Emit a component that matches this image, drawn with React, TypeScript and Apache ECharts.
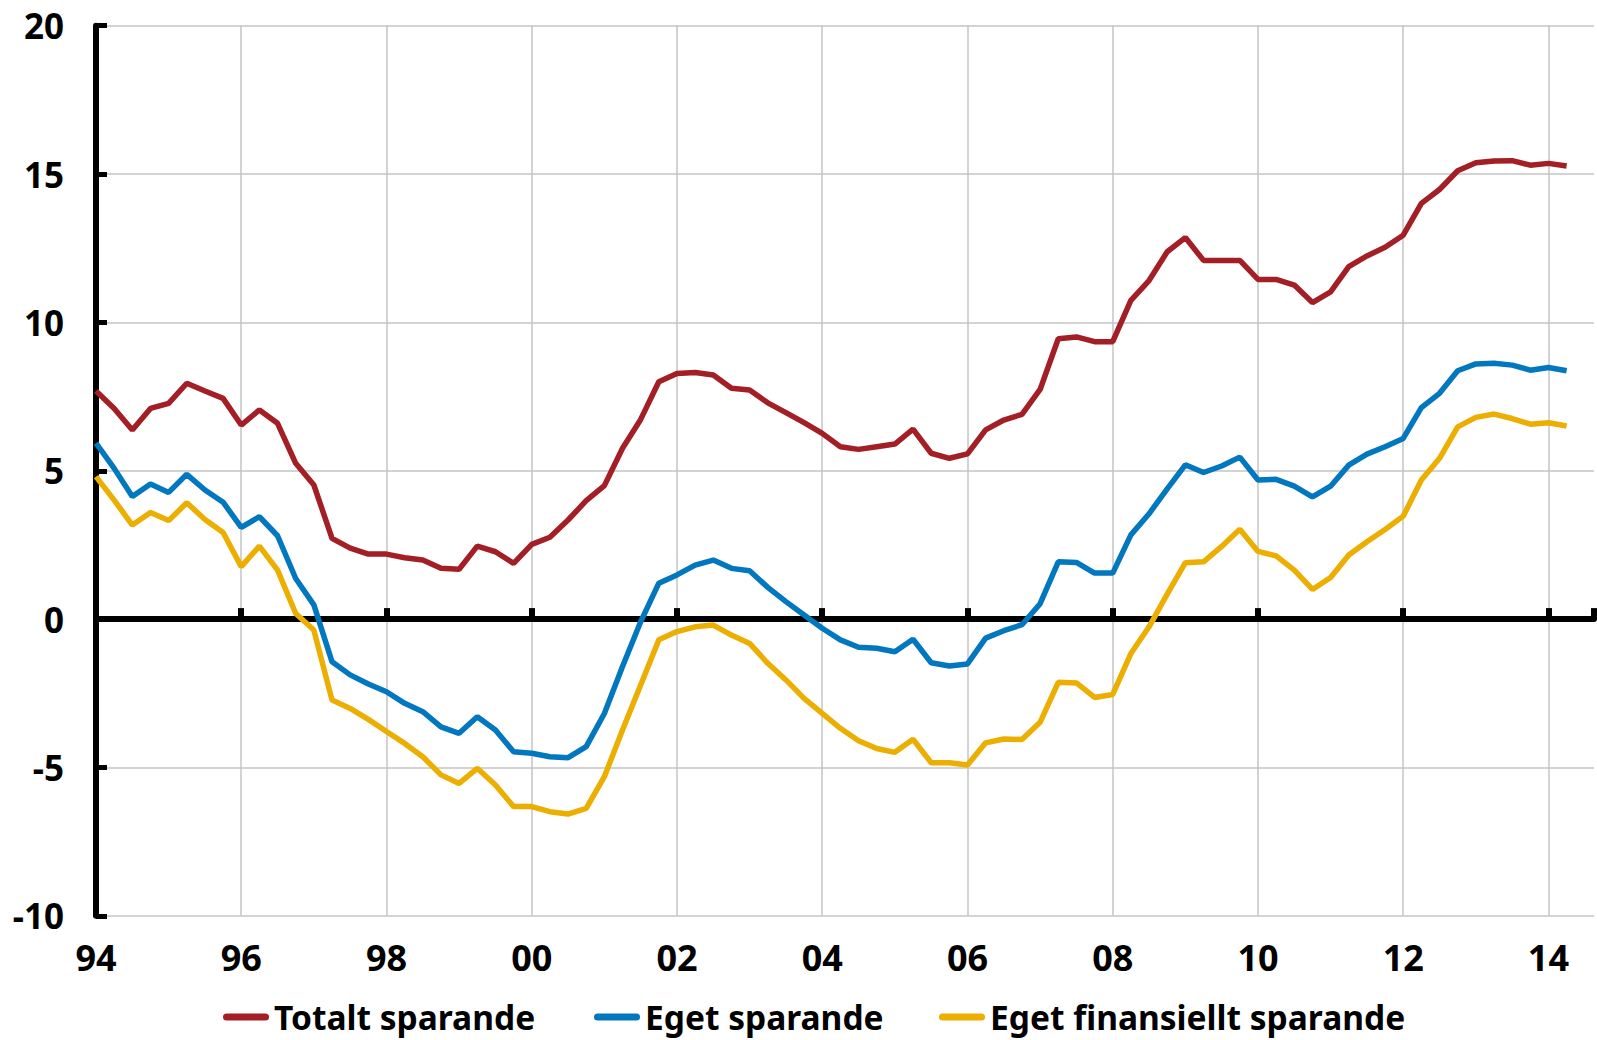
import React, { useEffect, useRef } from "react";
import * as echarts from "echarts";

const seriesNames = ["Totalt sparande", "Eget sparande", "Eget finansiellt sparande"];
const seriesColors = ["#A31E25", "#0077BE", "#ECAE00"];

// Quarterly observations, 1994 Q1 .. 2014 Q2
const startYear = 1994;
const totaltSparande = [
  7.69, 7.10, 6.37, 7.10, 7.27, 7.95, 7.69, 7.44, 6.54, 7.05, 6.60, 5.25, 4.52, 2.72, 2.39, 2.19,
  2.19, 2.07, 1.99, 1.71, 1.68, 2.46, 2.27, 1.88, 2.52, 2.76, 3.34, 3.99, 4.50, 5.76, 6.73, 8.00,
  8.28, 8.31, 8.23, 7.78, 7.72, 7.29, 6.96, 6.62, 6.26, 5.81, 5.72, 5.81, 5.90, 6.40, 5.59, 5.42,
  5.57, 6.38, 6.71, 6.90, 7.74, 9.45, 9.51, 9.35, 9.35, 10.74, 11.41, 12.38, 12.86, 12.09, 12.09, 12.09,
  11.45, 11.45, 11.26, 10.67, 11.03, 11.88, 12.24, 12.53, 12.94, 14.01, 14.48, 15.11, 15.38, 15.44, 15.45, 15.30,
  15.36, 15.27,
];
const egetSparande = [
  5.93, 5.08, 4.13, 4.55, 4.27, 4.88, 4.35, 3.94, 3.09, 3.45, 2.81, 1.37, 0.48, -1.44, -1.88, -2.19,
  -2.45, -2.84, -3.12, -3.63, -3.85, -3.29, -3.74, -4.47, -4.52, -4.64, -4.67, -4.30, -3.18, -1.60, -0.09, 1.21,
  1.49, 1.82, 1.99, 1.71, 1.63, 1.07, 0.59, 0.14, -0.31, -0.70, -0.95, -0.98, -1.10, -0.68, -1.47, -1.58,
  -1.51, -0.64, -0.39, -0.19, 0.52, 1.93, 1.91, 1.55, 1.55, 2.84, 3.55, 4.39, 5.20, 4.94, 5.16, 5.46,
  4.69, 4.71, 4.48, 4.12, 4.48, 5.19, 5.56, 5.81, 6.09, 7.13, 7.61, 8.37, 8.60, 8.62, 8.56, 8.39,
  8.48, 8.37,
];
const egetFinansielltSparande = [
  4.80, 4.01, 3.17, 3.59, 3.32, 3.92, 3.36, 2.92, 1.77, 2.46, 1.65, 0.19, -0.37, -2.73, -3.01, -3.38,
  -3.79, -4.19, -4.64, -5.25, -5.54, -5.03, -5.59, -6.32, -6.32, -6.49, -6.57, -6.38, -5.31, -3.74, -2.22, -0.70,
  -0.42, -0.26, -0.20, -0.54, -0.82, -1.49, -2.05, -2.67, -3.18, -3.68, -4.10, -4.36, -4.49, -4.05, -4.84, -4.84,
  -4.92, -4.17, -4.04, -4.06, -3.48, -2.13, -2.15, -2.64, -2.54, -1.16, -0.26, 0.84, 1.90, 1.93, 2.45, 3.03,
  2.28, 2.13, 1.65, 1.00, 1.40, 2.16, 2.61, 3.02, 3.47, 4.69, 5.42, 6.48, 6.80, 6.91, 6.76, 6.57,
  6.62, 6.51,
];

const xTickYears = [1994, 1996, 1998, 2000, 2002, 2004, 2006, 2008, 2010, 2012, 2014];
const xTickLabels = ["94", "96", "98", "00", "02", "04", "06", "08", "10", "12", "14"];
const yTickValues = [-10, -5, 0, 5, 10, 15, 20];
const yTickLabels = ["-10", "-5", "0", "5", "10", "15", "20"];

const FONT = "'Noto Sans', 'Open Sans', sans-serif";

export default function App() {
  const ref = useRef<HTMLDivElement>(null);

  useEffect(() => {
    if (!ref.current) return;
    const chart = echarts.init(ref.current, undefined, { renderer: "svg" });

    const allSeries = [totaltSparande, egetSparande, egetFinansielltSparande];
    const xMin = 1994;
    const xMax = 2014.627;

    const xLabelFmt = (v: number) => {
      const idx = xTickYears.indexOf(Math.round(v * 1000) / 1000);
      return idx >= 0 ? xTickLabels[idx] : "";
    };
    const yLabelFmt = (v: number) => {
      const idx = yTickValues.indexOf(v);
      return idx >= 0 ? yTickLabels[idx] : "";
    };

    const capsule = "path://M3.5,0 L42.5,0 A3.5,3.5 0 0 1 42.5,7 L3.5,7 A3.5,3.5 0 0 1 3.5,0 Z";
    const legendCommon = {
      top: 1000,
      orient: "horizontal",
      itemWidth: 46,
      itemHeight: 7,
      itemGap: 0,
      padding: 0,
      icon: capsule,
      selectedMode: false,
      textStyle: {
        fontFamily: FONT,
        fontSize: 33.5,
        fontWeight: "bold",
        color: "#000",
        lineHeight: 34,
      },
    };

    chart.setOption({
      animation: false,
      backgroundColor: "#ffffff",
      grid: { left: 96, right: 0, top: 25.7, bottom: 124.2, containLabel: false },
      legend: [
        { ...legendCommon, left: 223, data: [seriesNames[0]] },
        { ...legendCommon, left: 594, data: [seriesNames[1]] },
        { ...legendCommon, left: 939, data: [seriesNames[2]] },
      ],
      xAxis: [
        {
          type: "value",
          min: xMin,
          max: xMax,
          interval: 2,
          position: "bottom",
          axisLine: { show: false, onZero: false },
          axisTick: { show: false },
          axisLabel: {
            formatter: xLabelFmt,
            fontFamily: FONT,
            fontSize: 36,
            fontWeight: "bold",
            color: "#000",
            margin: 24,
          },
          splitLine: {
            show: true,
            showMinLine: false,
            showMaxLine: false,
            lineStyle: { color: "#c4c4c4", width: 1.5 },
          },
        },
        {
          type: "value",
          min: xMin,
          max: xMax,
          interval: 2,
          position: "bottom",
          axisLine: { show: true, onZero: true, lineStyle: { color: "#000", width: 6 } },
          axisTick: { show: true, inside: true, length: 11, lineStyle: { color: "#000", width: 6 } },
          axisLabel: { show: false },
          splitLine: { show: false },
        },
      ],
      yAxis: {
        type: "value",
        min: -10,
        max: 20,
        interval: 5,
        axisLine: { show: true, onZero: false, lineStyle: { color: "#000", width: 6 } },
        axisTick: { show: true, inside: true, length: 11, lineStyle: { color: "#000", width: 5 } },
        axisLabel: {
          formatter: yLabelFmt,
          fontFamily: FONT,
          fontSize: 35,
          fontWeight: "bold",
          color: "#000",
          margin: 32,
        },
        splitLine: { show: true, lineStyle: { color: "#c4c4c4", width: 1.5 } },
      },
      series: allSeries.map((vals, s) => ({
        name: seriesNames[s],
        type: "line",
        xAxisIndex: 0,
        symbol: "none",
        z: 3 + s,
        lineStyle: { color: seriesColors[s], width: 5.5 },
        itemStyle: { color: seriesColors[s] },
        data: vals.map((v, i) => [startYear + i * 0.25, v]),
      })),
    });

    return () => chart.dispose();
  }, []);

  return (
    <div
      ref={ref}
      style={{ position: "absolute", left: 0, top: 0, width: 1597, height: 1040 }}
    />
  );
}
